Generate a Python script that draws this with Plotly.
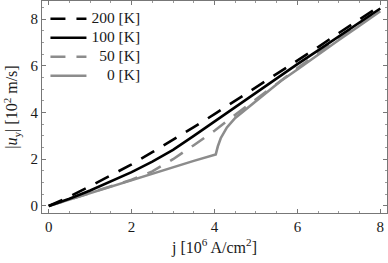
import plotly.graph_objects as go

# Data
x_200 = [0, 0.5, 1, 1.5, 2, 2.5, 3, 3.5, 4, 4.5, 5, 5.5, 6, 6.5, 7, 7.5, 8]
y_200 = [0, 0.40, 0.85, 1.30, 1.78, 2.30, 2.83, 3.37, 3.93, 4.50, 5.07, 5.65, 6.23, 6.80, 7.40, 7.98, 8.57]

x_100 = [0, 0.5, 1, 1.5, 2, 2.5, 3, 3.5, 4, 4.5, 5, 5.5, 6, 6.5, 7, 7.5, 8]
y_100 = [0, 0.31, 0.66, 1.04, 1.45, 1.90, 2.40, 3.00, 3.62, 4.24, 4.85, 5.46, 6.07, 6.66, 7.25, 7.85, 8.45]

x_50 = [0, 0.5, 1, 1.5, 2, 2.5, 3, 3.5, 4, 4.5, 5, 5.5, 6, 6.5, 7, 7.5, 8]
y_50 = [0, 0.28, 0.56, 0.84, 1.12, 1.48, 2.00, 2.60, 3.22, 3.90, 4.55, 5.22, 5.90, 6.55, 7.17, 7.78, 8.40]

x_0 = [0, 0.5, 1, 1.5, 2, 2.5, 3, 3.5, 4.03, 4.08, 4.15, 4.3, 4.5, 4.8, 5.2, 5.6, 6, 6.5, 7, 7.5, 8]
y_0 = [0, 0.28, 0.56, 0.83, 1.10, 1.38, 1.65, 1.93, 2.20, 2.55, 2.90, 3.36, 3.77, 4.20, 4.80, 5.35, 5.84, 6.48, 7.10, 7.71, 8.33]

labels = ["200 [K]", "100 [K]", "\u00a0\u00a050 [K]", "\u00a0\u00a0\u00a0\u00a00 [K]"]
x_ticks = [0, 2, 4, 6, 8]
y_ticks = [0, 2, 4, 6, 8]

FONT = "Liberation Serif"
GRAY = "#8c8c8c"
TXT = "#1a1a1a"


def leg(s):
    return '<span style="font-size:15.5px">' + s + '</span>'


fig = go.Figure()
fig.add_trace(go.Scatter(x=x_0, y=y_0, mode="lines", name=leg(labels[3]),
                         line=dict(color=GRAY, width=2.6)))
fig.add_trace(go.Scatter(x=x_50, y=y_50, mode="lines", name=leg(labels[2]),
                         line=dict(color=GRAY, width=2.6, dash="15px,11px")))
fig.add_trace(go.Scatter(x=x_100, y=y_100, mode="lines", name=leg(labels[1]),
                         line=dict(color="black", width=2.6)))
fig.add_trace(go.Scatter(x=x_200, y=y_200, mode="lines", name=leg(labels[0]),
                         line=dict(color="black", width=2.6, dash="15px,11px")))

axis_common = dict(
    showgrid=False, zeroline=False, showline=True, linecolor="#777", linewidth=1,
    mirror="ticks", ticks="inside", ticklen=4, tickcolor="#777", tickwidth=1,
    tickfont=dict(family=FONT, size=15, color=TXT),
    minor=dict(dtick=0.5, ticks="inside", ticklen=2, tickcolor="#999", tickwidth=1),
)

fig.update_xaxes(range=[-0.162, 8.162], tickvals=x_ticks,
                 title=dict(text="j [10<sup>6</sup> A/cm<sup>2</sup>]",
                            font=dict(family=FONT, size=16, color=TXT), standoff=7),
                 **axis_common)
fig.update_yaxes(range=[-0.3, 8.77], tickvals=y_ticks,
                 title=dict(text="|<i>u</i><sub>y</sub>| [10<sup>2</sup> m/s]",
                            font=dict(family=FONT, size=16, color=TXT), standoff=8),
                 **axis_common)

fig.update_layout(
    width=388, height=263,
    margin=dict(l=42, r=1, t=1, b=50),
    plot_bgcolor="white", paper_bgcolor="white",
    showlegend=True,
    legend=dict(x=0.01, y=0.985, xanchor="left", yanchor="top",
                traceorder="reversed", bgcolor="rgba(0,0,0,0)",
                font=dict(family=FONT, size=11, color=TXT),
                itemwidth=36, tracegroupgap=0),
)

fig.write_html("out.html", config={"displayModeBar": False},
               post_script="document.body.style.margin='0';document.body.style.padding='0';")
